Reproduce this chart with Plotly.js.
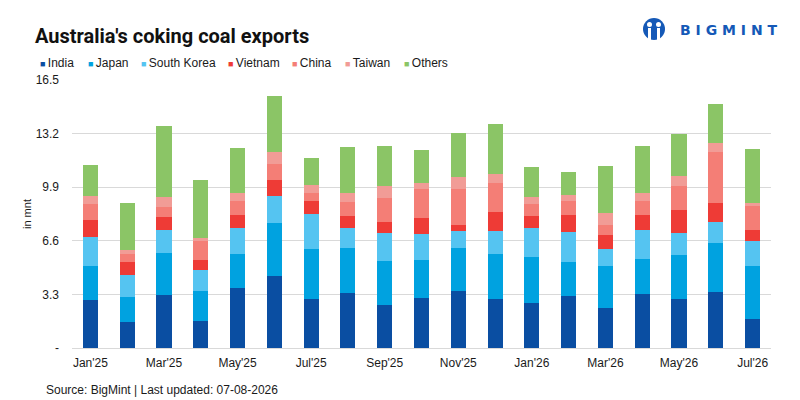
<!DOCTYPE html>
<html>
<head>
<meta charset="utf-8">
<script src="https://cdn.plot.ly/plotly-3.0.1.min.js"></script>
<style>
  html, body { margin: 0; padding: 0; background: #fff; }
  #chart { width: 800px; height: 400px; }
</style>
</head>
<body>
<div id="chart"></div>
<script>
  var months = ["Jan'25", "Feb'25", "Mar'25", "Apr'25", "May'25", "Jun'25", "Jul'25", "Aug'25", "Sep'25",
    "Oct'25", "Nov'25", "Dec'25", "Jan'26", "Feb'26", "Mar'26", "Apr'26", "May'26", "Jun'26", "Jul'26"];

  // mnt
  var india    = [2.95, 1.60, 3.26, 1.66, 3.69, 4.43, 3.02, 3.39, 2.65, 3.08, 3.51, 3.02, 2.77, 3.20, 2.46, 3.32, 3.02, 3.45, 1.79];
  var japan    = [2.10, 1.54, 2.59, 1.85, 2.10, 3.27, 3.07, 2.77, 2.71, 2.34, 2.65, 2.77, 2.83, 2.09, 2.59, 2.16, 2.71, 3.01, 3.26];
  var korea    = [1.78, 1.35, 1.41, 1.29, 1.60, 1.66, 2.16, 1.23, 1.72, 1.60, 1.04, 1.41, 1.79, 1.85, 1.04, 1.78, 1.35, 1.30, 1.54];
  var vietnam  = [1.05, 0.80, 0.80, 0.62, 0.80, 0.98, 0.80, 0.74, 0.68, 0.98, 0.37, 1.17, 0.74, 1.05, 0.87, 0.93, 1.42, 1.17, 0.67];
  var china    = [0.99, 0.50, 0.62, 1.17, 0.86, 0.99, 0.49, 0.86, 1.47, 1.79, 2.22, 1.79, 0.74, 0.86, 0.61, 0.86, 1.47, 3.14, 1.48];
  var taiwan   = [0.49, 0.24, 0.62, 0.18, 0.49, 0.74, 0.49, 0.55, 0.74, 0.37, 0.74, 0.55, 0.43, 0.37, 0.74, 0.49, 0.62, 0.55, 0.19];
  var others   = [1.91, 2.90, 4.37, 3.57, 2.77, 3.44, 1.67, 2.83, 2.47, 2.03, 2.71, 3.08, 1.84, 1.42, 2.89, 2.90, 2.58, 2.40, 3.32];

  var names  = ["India", "Japan", "South Korea", "Vietnam", "China", "Taiwan", "Others"];
  var series = [india, japan, korea, vietnam, china, taiwan, others];
  var colors = ["#0a4ea2", "#00a2e0", "#55c4f1", "#ee3b36", "#f47e76", "#f19c96", "#8bc566"];

  var yTicks = [0, 3.3, 6.6, 9.9, 13.2, 16.5];
  var yLabels = ["-", "3.3", "6.6", "9.9", "13.2", "16.5"];
  var xTicks = months.filter(function (m, i) { return i % 2 === 0; });

  // plot area in pixels, used to place the header bits in paper coords
  var L = 72, R = 771, T = 80, B = 348;
  function px(x) { return (x - L) / (R - L); }
  function py(y) { return (B - y) / (B - T); }

  var traces = series.map(function (s, i) {
    return {
      type: "bar",
      x: months,
      y: s,
      name: names[i],
      marker: { color: colors[i], line: { width: 0 } },
      hovertemplate: "%{x}<br>" + names[i] + ": %{y:.2f} mnt<extra></extra>"
    };
  });

  var legendX = [38, 86, 139, 226, 290, 343, 402];
  var annotations = names.map(function (n, i) {
    return {
      xref: "paper", yref: "paper",
      x: px(legendX[i]), y: py(63),
      xanchor: "left", yanchor: "middle",
      showarrow: false,
      text: '<span style="color:' + colors[i] + ';font-size:9px">\u25a0</span>\u2009' + n,
      font: { family: "Liberation Sans, Arial, sans-serif", size: 12, color: "#1a1a1a" }
    };
  });

  annotations.push({
    xref: "paper", yref: "paper",
    x: px(44), y: py(390),
    xanchor: "left", yanchor: "middle",
    showarrow: false,
    text: "Source: BigMint | Last updated: 07-08-2026",
    font: { family: "Liberation Sans, Arial, sans-serif", size: 12, color: "#1a1a1a" }
  });

  annotations.push({
    xref: "paper", yref: "paper",
    x: px(678), y: py(30),
    xanchor: "left", yanchor: "middle",
    showarrow: false,
    text: "<b>B I G M I N T</b>",
    font: { family: "DejaVu Sans, sans-serif", size: 14, color: "#1559b7" }
  });

  // rough logo mark
  var shapes = [
    { type: "circle", xref: "paper", yref: "paper", x0: px(643), x1: px(665), y0: py(40), y1: py(18),
      fillcolor: "#1559b7", line: { width: 0 } },
    { type: "circle", xref: "paper", yref: "paper", x0: px(647), x1: px(652), y0: py(27), y1: py(22),
      fillcolor: "#fff", line: { width: 0 } },
    { type: "circle", xref: "paper", yref: "paper", x0: px(656), x1: px(661), y0: py(27), y1: py(22),
      fillcolor: "#fff", line: { width: 0 } },
    { type: "rect", xref: "paper", yref: "paper", x0: px(648), x1: px(651), y0: py(40), y1: py(28),
      fillcolor: "#fff", line: { width: 0 } },
    { type: "rect", xref: "paper", yref: "paper", x0: px(657), x1: px(660), y0: py(40), y1: py(28),
      fillcolor: "#fff", line: { width: 0 } }
  ];

  var layout = {
    width: 800,
    height: 400,
    margin: { l: L, r: 800 - R, t: T, b: 400 - B },
    paper_bgcolor: "#fff",
    plot_bgcolor: "#fff",
    barmode: "stack",
    bargap: 0.59,
    showlegend: false,
    font: { family: "Liberation Sans, Arial, sans-serif", size: 12, color: "#1a1a1a" },
    title: {
      text: "Australia's coking coal exports",
      font: { family: "Roboto, Liberation Sans, sans-serif", size: 20, weight: 700, color: "#111" },
      x: 35 / 800, xanchor: "left", xref: "container",
      y: 1 - 36 / 400, yanchor: "middle", yref: "container"
    },
    xaxis: {
      type: "category",
      tickvals: xTicks,
      ticks: "",
      showgrid: false,
      showline: false,
      ticklabelstandoff: 6,
      tickfont: { size: 12, color: "#1a1a1a" },
      fixedrange: true
    },
    yaxis: {
      range: [0, 16.5],
      tickvals: yTicks,
      ticktext: yLabels,
      ticks: "",
      showgrid: true,
      gridcolor: "#d9d9d9",
      gridwidth: 1,
      zeroline: true,
      zerolinecolor: "#d9d9d9",
      zerolinewidth: 1,
      showline: false,
      ticklabelstandoff: 12,
      tickfont: { size: 12, color: "#1a1a1a" },
      title: { text: "in mnt", standoff: 1, font: { size: 11, color: "#1a1a1a" } },
      fixedrange: true
    },
    annotations: annotations,
    shapes: shapes
  };

  Plotly.newPlot("chart", traces, layout, { displayModeBar: false });
</script>
</body>
</html>
